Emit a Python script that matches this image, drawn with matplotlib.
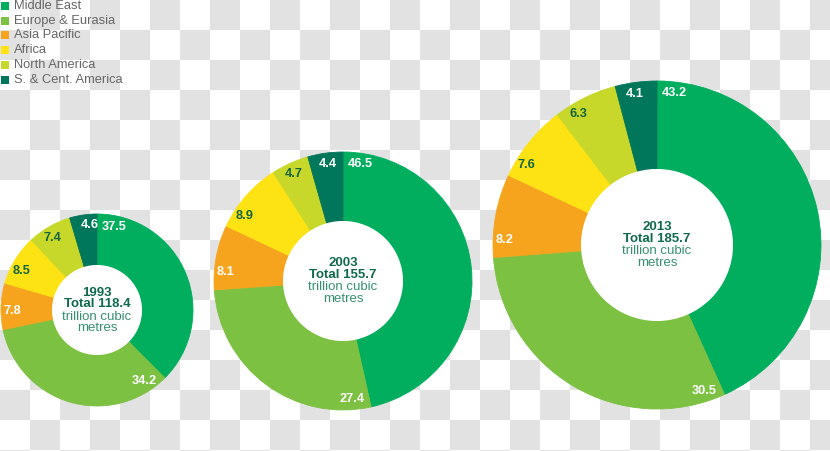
import matplotlib
matplotlib.use("Agg")
import matplotlib.pyplot as plt
import numpy as np
from matplotlib.colors import ListedColormap
from matplotlib.patches import Circle

# data
regions = ["Middle East", "Europe & Eurasia", "Asia Pacific", "Africa",
           "North America", "S. & Cent. America"]
years = ["1993", "2003", "2013"]
totals = [118.4, 155.7, 185.7]
share_1993 = [37.5, 34.2, 7.8, 8.5, 7.4, 4.6]
share_2003 = [46.5, 27.4, 8.1, 8.9, 4.7, 4.4]
share_2013 = [43.2, 30.5, 8.2, 7.6, 6.3, 4.1]
shares = [share_1993, share_2003, share_2013]

# style
colors = ["#00ae5e", "#7cc142", "#f6a41d", "#fde214", "#c8d82b", "#00765a"]
label_colors = ["white", "white", "white", "#15643f", "#15643f", "white"]
dark = "#10694f"
light = "#36906f"

W, H = 830, 451
# donut centres (pixels from top-left), outer and inner radius
centres = [(97, 310), (343, 281), (657, 245)]
outer = [96, 129, 164]
inner = [45, 60, 76]

plt.rcParams["font.family"] = ["Liberation Sans", "DejaVu Sans"]

fig = plt.figure(figsize=(W / 100, H / 100), dpi=100)
ax = fig.add_axes([0, 0, 1, 1])

# transparent-style checker background
nx, ny = 28, 16
checks = (np.add.outer(np.arange(ny), np.arange(nx)) % 2).astype(float)
ax.imshow(checks, cmap=ListedColormap(["white", "#e2e2e2"]), origin="upper",
          extent=(0, nx * 30, H - ny * 30, H), zorder=0, interpolation="nearest")

for k, vals in enumerate(shares):
    cx, cy = centres[k][0], H - centres[k][1]
    R = outer[k]
    wedges, _ = ax.pie(vals, colors=colors, startangle=90, counterclock=False,
                       center=(cx, cy), radius=R, frame=True,
                       wedgeprops=dict(width=R - inner[k], linewidth=0.6))
    for w, v, lc in zip(wedges, vals, label_colors):
        w.set_edgecolor(w.get_facecolor())
        r = R - 11
        ang = np.radians(w.theta2 - np.degrees(17.0 / r))
        ax.text(cx + r * np.cos(ang), cy + r * np.sin(ang), f"{v:.1f}",
                ha="center", va="center", fontsize=9.2, fontweight="bold",
                color=lc, zorder=5)
    ax.add_patch(Circle((cx, cy), inner[k], facecolor="white",
                        edgecolor="none", zorder=4))
    ax.text(cx, cy + 17.5, years[k], ha="center", va="center", fontsize=9.5,
            fontweight="bold", color=dark, zorder=5)
    ax.text(cx, cy + 6, f"Total {totals[k]:.1f}", ha="center", va="center",
            fontsize=9.5, fontweight="bold", color=dark, zorder=5)
    ax.text(cx, cy - 6.5, "trillion cubic", ha="center", va="center",
            fontsize=9.5, color=light, zorder=5)
    ax.text(cx, cy - 18, "metres", ha="center", va="center",
            fontsize=9.5, color=light, zorder=5)

# legend
for i, (name, c) in enumerate(zip(regions, colors)):
    y = H - (5.8 + i * 14.8)
    ax.scatter([4.5], [y], marker="s", s=28, color=c, linewidths=0, zorder=5)
    ax.text(13.5, y, name, ha="left", va="center", fontsize=9.3,
            color="#666666", zorder=5)

ax.set_xlim(0, W)
ax.set_ylim(0, H)
ax.set_aspect("equal")
ax.axis("off")

fig.savefig("out.png", dpi=100)
